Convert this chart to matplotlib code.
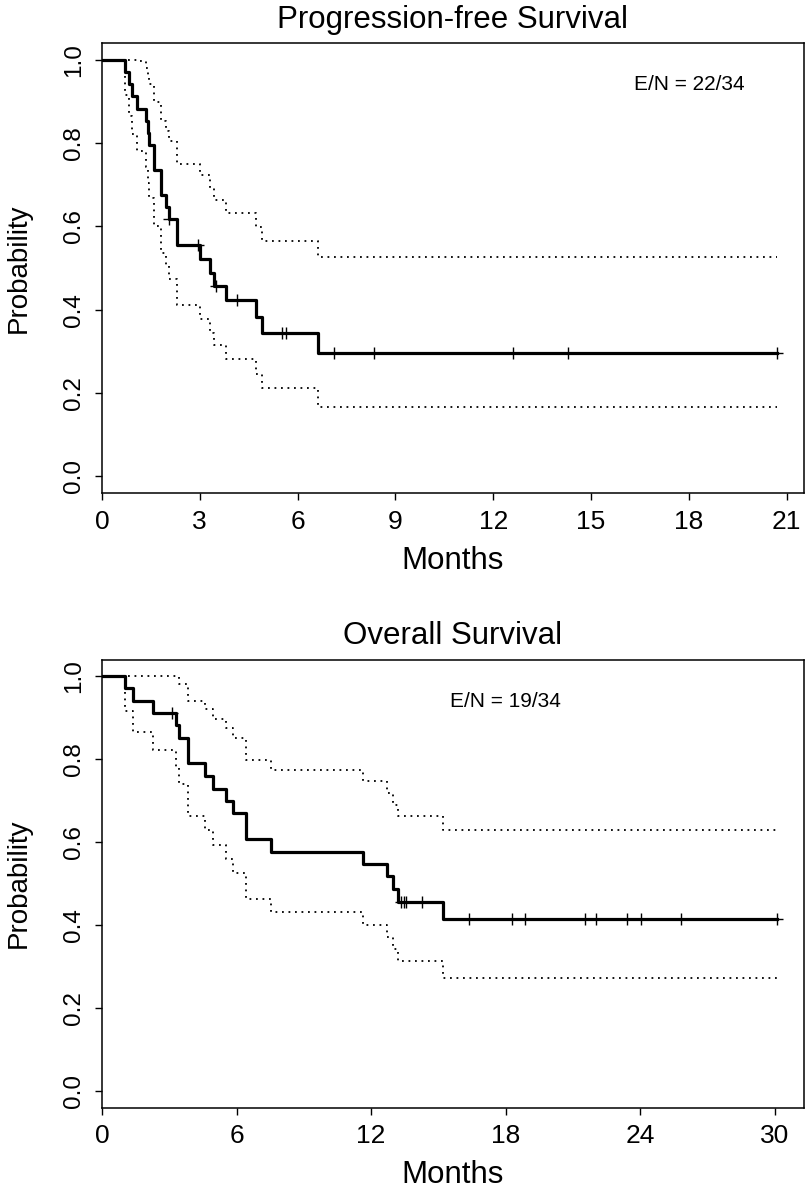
import matplotlib
matplotlib.use("Agg")
import matplotlib.pyplot as plt
import numpy as np

plt.rcParams['font.family'] = ['Liberation Sans', 'DejaVu Sans']

# Progression-free survival (Kaplan-Meier steps)
pfs_times = [0, 0.70, 0.83, 0.91, 1.06, 1.36, 1.40, 1.44, 1.60, 1.80, 1.97, 2.05,
             2.30, 3.00, 3.32, 3.43, 3.79, 4.73, 4.91, 6.64]
pfs_surv = [1.000, 0.971, 0.941, 0.912, 0.882, 0.853, 0.824, 0.794, 0.735, 0.676,
            0.647, 0.618, 0.554, 0.522, 0.489, 0.457, 0.422, 0.383, 0.345, 0.296]
pfs_lower = [1.000, 0.916, 0.865, 0.821, 0.780, 0.742, 0.705, 0.669, 0.601, 0.536,
             0.505, 0.474, 0.410, 0.377, 0.345, 0.315, 0.281, 0.245, 0.211, 0.166]
pfs_upper = [1.000, 1.000, 1.000, 1.000, 0.997, 0.981, 0.962, 0.942, 0.899, 0.853,
             0.829, 0.805, 0.750, 0.722, 0.693, 0.664, 0.632, 0.599, 0.564, 0.527]
pfs_censor = [2.05, 2.94, 3.51, 4.15, 5.53, 5.63, 7.12, 8.34, 12.61, 14.28, 20.70]
pfs_label = "E/N = 22/34"

# Overall survival
os_times = [0, 1.02, 1.39, 2.28, 3.32, 3.44, 3.84, 4.58, 4.93, 5.52, 5.84, 6.41,
            7.55, 11.66, 12.72, 12.96, 13.19, 15.19]
os_surv = [1.000, 0.971, 0.941, 0.912, 0.881, 0.851, 0.790, 0.760, 0.729, 0.699,
           0.669, 0.608, 0.577, 0.547, 0.517, 0.486, 0.456, 0.414]
os_lower = [1.000, 0.915, 0.865, 0.821, 0.779, 0.739, 0.663, 0.628, 0.593, 0.559,
            0.526, 0.462, 0.431, 0.401, 0.371, 0.342, 0.314, 0.273]
os_upper = [1.000, 1.000, 1.000, 1.000, 0.998, 0.980, 0.941, 0.920, 0.897, 0.874,
            0.850, 0.799, 0.773, 0.746, 0.719, 0.690, 0.662, 0.629]
os_censor = [3.14, 13.34, 13.48, 13.56, 14.27, 16.38, 18.28, 18.86, 21.54, 22.04,
             23.42, 24.05, 25.84, 30.10]
os_label = "E/N = 19/34"

y_ticks = [0.0, 0.2, 0.4, 0.6, 0.8, 1.0]


def km_panel(ax, title, times, surv, lower, upper, censor, label, xstep):
    t_end = max(censor)
    t = list(times) + [t_end]
    for vals, ls, lw in [(lower, (0, (1, 2.6)), 1.3), (upper, (0, (1, 2.6)), 1.3),
                         (surv, '-', 2.3)]:
        v = list(vals) + [vals[-1]]
        ax.plot(t, v, drawstyle='steps-post', color='black', linestyle=ls, lw=lw)
    # censor marks sit on the step value at that time
    idx = np.searchsorted(times, censor, side='right') - 1
    ax.plot(censor, np.array(surv)[idx], linestyle='none', marker='+',
            color='black', ms=8, mew=1.0)

    ax.set_xlim(0, t_end * 1.04)
    ax.set_ylim(-0.04, 1.04)
    ax.set_xticks(np.arange(0, t_end * 1.04, xstep))
    ax.set_yticks(y_ticks)
    ax.set_yticklabels([f"{v:.1f}" for v in y_ticks], rotation=90, va='center')
    ax.tick_params(direction='out', length=5, width=1, pad=7)
    ax.tick_params(axis='x', labelsize=19)
    ax.tick_params(axis='y', labelsize=17.5)
    for s in ax.spines.values():
        s.set_linewidth(1.1)
    ax.set_title(title, fontsize=22.5, pad=11)
    ax.set_xlabel("Months", fontsize=22.5)
    ax.set_ylabel("Probability", fontsize=20)
    ax.xaxis.set_label_coords(0.5, -0.151)
    ax.xaxis.label.set_va('center')
    ax.yaxis.set_label_coords(-0.118, 0.5)
    ax.yaxis.label.set_va('center')
    ax.text(18, 0.94, label, ha='center', va='center', fontsize=15)


fig = plt.figure(figsize=(8.08, 11.89), dpi=100)
ax1 = fig.add_axes([0.1262, 0.5854, 0.8688, 0.3785])
ax2 = fig.add_axes([0.1262, 0.0685, 0.8688, 0.3768])

km_panel(ax1, "Progression-free Survival", pfs_times, pfs_surv, pfs_lower,
         pfs_upper, pfs_censor, pfs_label, 3)
km_panel(ax2, "Overall Survival", os_times, os_surv, os_lower,
         os_upper, os_censor, os_label, 6)

fig.savefig("out.png", dpi=100)
